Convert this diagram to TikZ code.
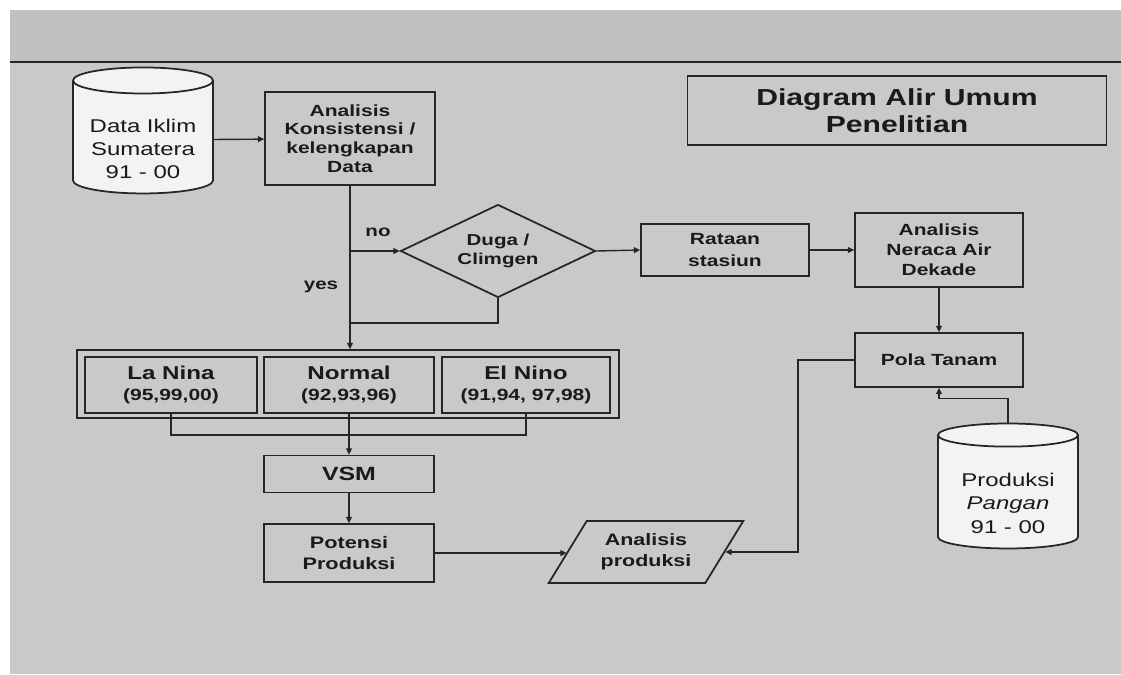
\documentclass[tikz,border=0pt]{standalone}
\usepackage{fontspec}
\setmainfont{Liberation Sans}[FakeStretch=1.3]
\usetikzlibrary{arrows.meta,shapes.geometric}
\definecolor{bgcol}{HTML}{C9C9C9}
\definecolor{bandcol}{HTML}{C0C0C0}
\definecolor{linecol}{HTML}{262626}
\definecolor{txtcol}{HTML}{1A1A1A}
\definecolor{dbfill}{HTML}{F3F3F3}

\begin{document}
\begin{tikzpicture}[
    x=0.02cm, y=-0.02cm,
    box/.style={draw=linecol, line width=1pt, minimum width=3.4cm, align=center, inner sep=1pt,
        text=txtcol, font=\bfseries\fontsize{9.2}{10.6}\selectfont},
    db/.style={cylinder, shape border rotate=90, aspect=0.22, draw=linecol, fill=dbfill, line width=1pt,
        minimum width=2.8cm, minimum height=2.52cm, align=center, text=txtcol,
        font=\fontsize{10.5}{13.2}\selectfont},
    lbl/.style={text=txtcol, font=\bfseries\fontsize{9}{10}\selectfont},
    conn/.style={draw=linecol, line width=0.8pt},
    >={Triangle[length=3.6pt,width=3.4pt]}
]

% background
\useasboundingbox (0,0) rectangle (1121,674);
\fill[white] (0,0) rectangle (1121,674);
\fill[bgcol] (10,10) rectangle (1121,674);
\fill[bandcol] (10,10) rectangle (1121,62);
\draw[linecol, line width=1.2pt] (10,62) -- (1121,62);

\node[box, minimum width=8.38cm, minimum height=1.38cm, font=\bfseries\fontsize{13.2}{15.3}\selectfont]
    (title) at (897,110.5) {Diagram Alir Umum\\Penelitian};

\node[db] (dik) at (143,140) {\rule{0pt}{0.62cm}Data Iklim\\Sumatera\\91 - 00};
\node[box, minimum height=1.86cm] (konsist) at (350,138.5) {Analisis\\Konsistensi /\\kelengkapan\\Data};

\node[diamond, aspect=2.1, draw=linecol, line width=1pt, minimum width=3.9cm, minimum height=1.86cm,
    inner sep=1pt, align=center, text=txtcol, font=\bfseries\fontsize{9}{11.3}\selectfont]
    (duga) at (498,251) {Duga /\\Climgen};
\node[box, minimum width=3.36cm, minimum height=1.04cm, font=\bfseries\fontsize{9.2}{12.4}\selectfont]
    (rat) at (725,250) {Rataan\\stasiun};
\node[box, minimum width=3.36cm, minimum height=1.48cm, font=\bfseries\fontsize{9.2}{11.3}\selectfont]
    (ner) at (939,250) {Analisis\\Neraca Air\\Dekade};
\node[box, minimum width=3.36cm, minimum height=1.08cm] (pola) at (939,360) {Pola Tanam};

\node[lbl] (no) at (378,232) {no};
\node[lbl] (yes) at (321,287) {yes};

% kelompok tahun
\node[box, minimum width=10.84cm, minimum height=1.36cm] (grp) at (348,384) {};
\node[box, minimum width=3.44cm, minimum height=1.12cm, font=\bfseries\fontsize{9.2}{12}\selectfont]
    (lanina) at (171,385) {{\fontsize{10.6}{12}\selectfont La Nina}\\(95,99,00)};
\node[box, minimum width=3.4cm, minimum height=1.12cm, font=\bfseries\fontsize{9.2}{12}\selectfont]
    (normal) at (349,385) {{\fontsize{10.6}{12}\selectfont Normal}\\(92,93,96)};
\node[box, minimum width=3.36cm, minimum height=1.12cm, font=\bfseries\fontsize{9.2}{12}\selectfont]
    (elnino) at (526,385) {{\fontsize{10.6}{12}\selectfont El Nino}\\(91,94, 97,98)};

\node[box, minimum height=0.74cm, font=\bfseries\fontsize{10.9}{12}\selectfont] (vsm) at (349,474) {VSM};
\node[box, minimum height=1.16cm, font=\bfseries\fontsize{9.5}{12}\selectfont] (pot) at (349,553) {Potensi\\Produksi};
\node[trapezium, trapezium left angle=53, trapezium right angle=127, trapezium stretches=true,
    draw=linecol, line width=1pt, minimum width=3.92cm, minimum height=1.24cm, inner sep=1pt,
    align=center, text=txtcol, font=\bfseries\fontsize{9.4}{12}\selectfont]
    (prod) at (646,552) {Analisis\\produksi};

\node[db, minimum height=2.5cm] (pang) at (1008,494.5) {\rule{0pt}{0.62cm}Produksi\\\textit{Pangan}\\91 - 00};

\coordinate (ret) at (350,323);
\coordinate (brk) at (349,435);

\draw[conn, ->] (dik) -- (konsist);
\draw[conn, ->] (konsist.south) -- (konsist.south |- grp.north);
\draw[conn, ->] (konsist.south |- duga.west) -- (duga.west);
\draw[conn] (duga.south) |- (ret);
\draw[conn, ->] (duga.east) -- (rat.west);
\draw[conn, ->] (rat.east) -- (ner.west);
\draw[conn, ->] (ner.south) -- (pola.north);

\draw[conn] (lanina.south) |- (brk) -| (elnino.south);
\draw[conn, ->] (normal.south) -- (vsm.north);
\draw[conn, ->] (vsm.south) -- (pot.north);
\draw[conn, ->] (pot.east) -- (pot.east -| prod.west);

\draw[conn, ->] (pola.west) -- ++(-56,0) |- (prod.east);
\draw[conn, ->] (pang.north) -- ++(0,-24) -| (pola.south);

\end{tikzpicture}
\end{document}
